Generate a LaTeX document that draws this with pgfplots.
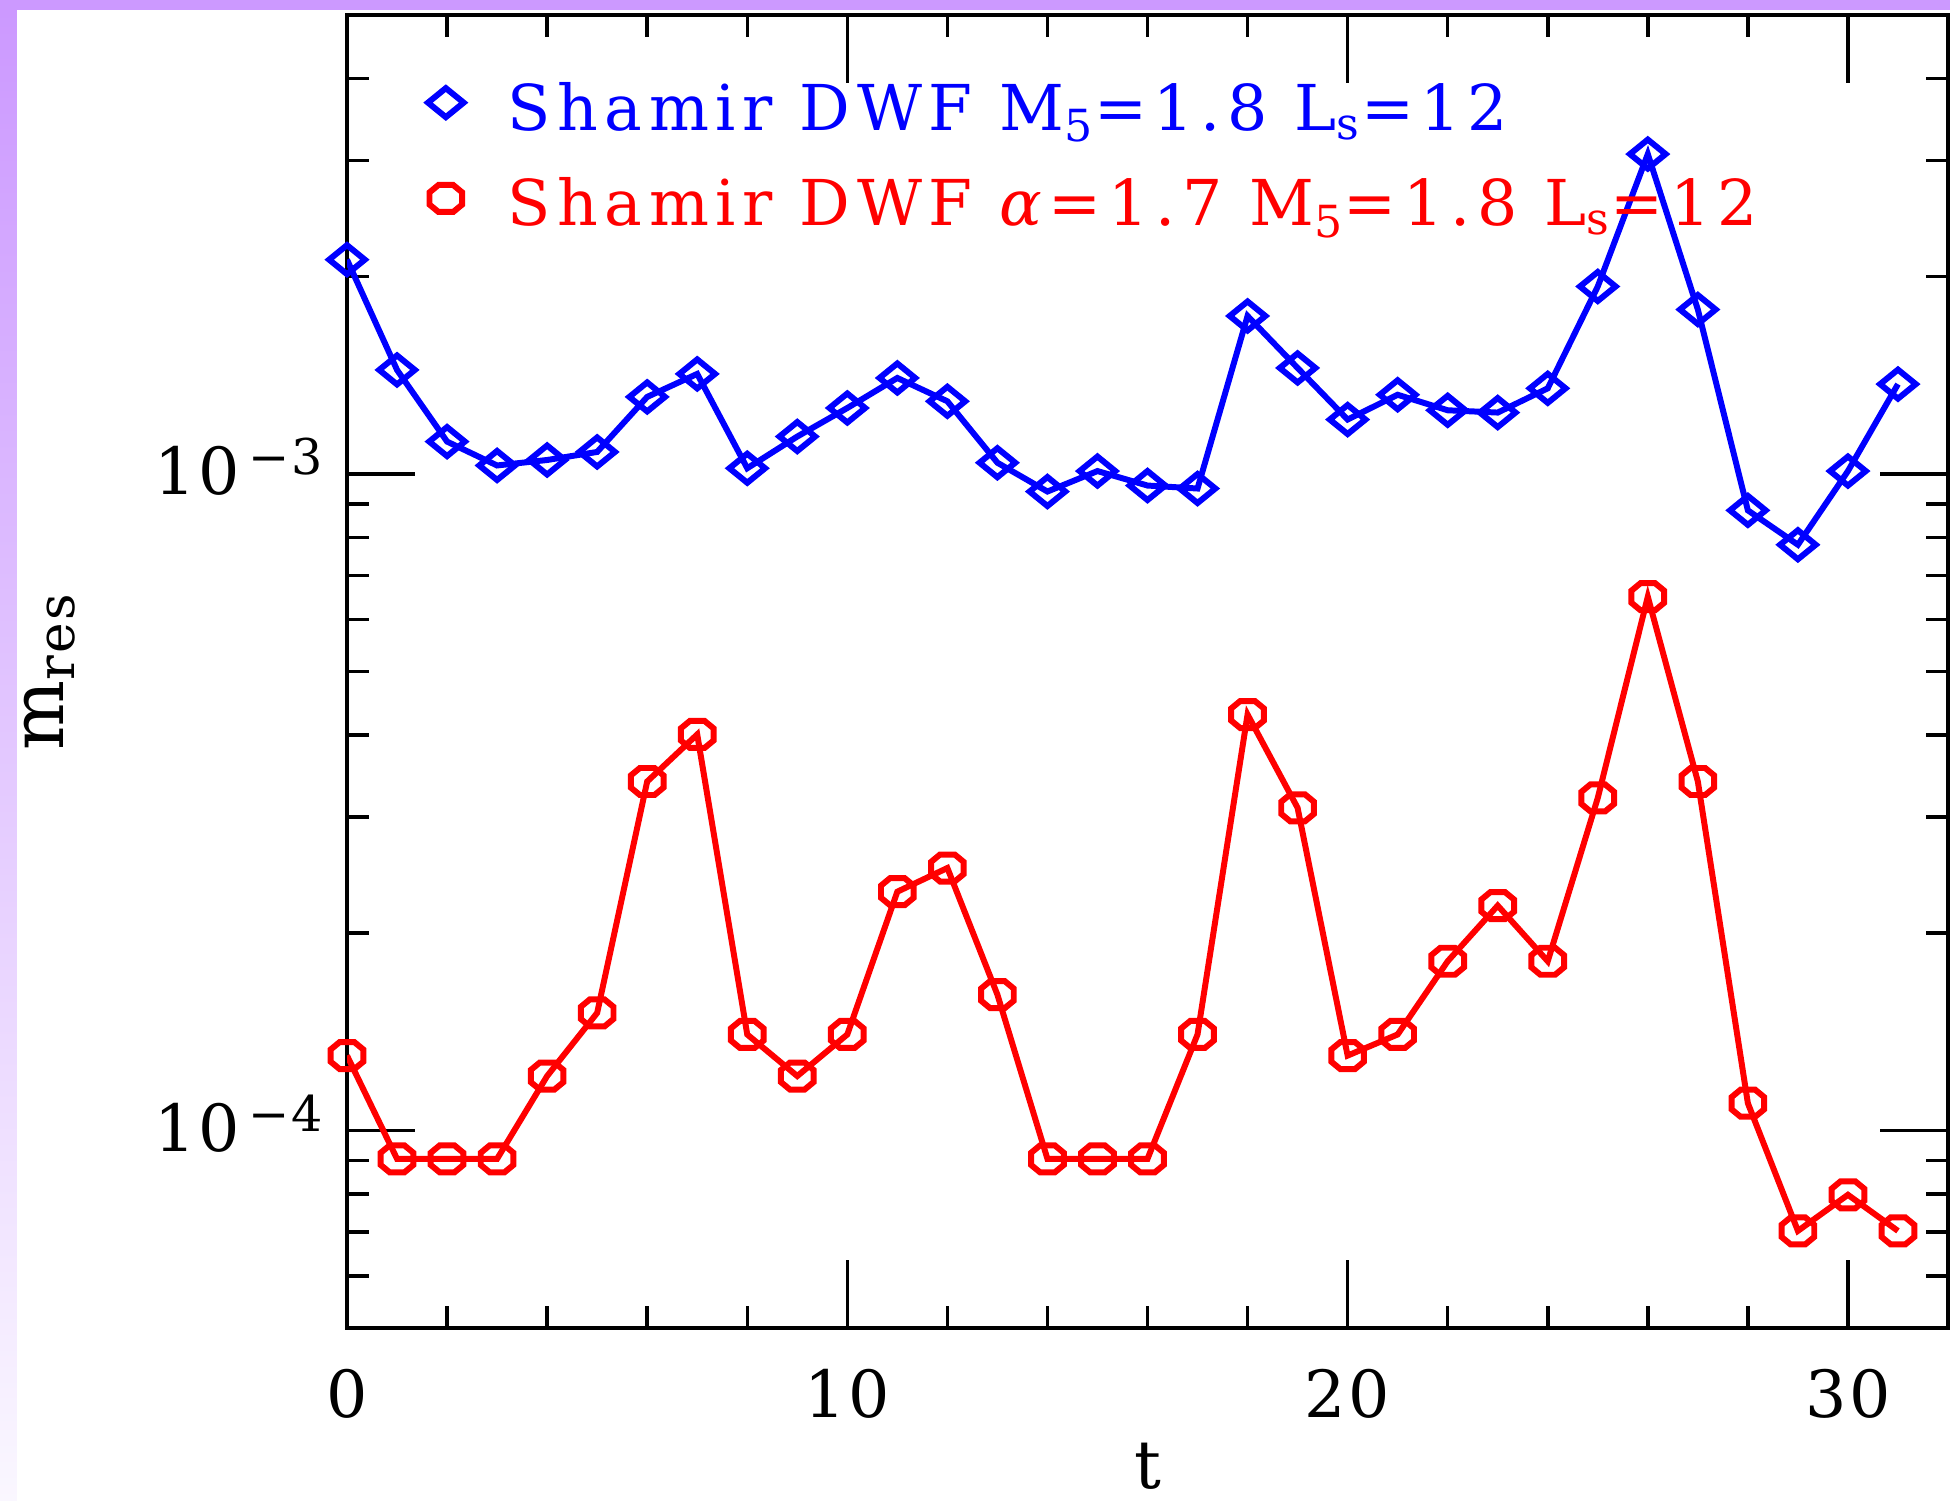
\documentclass[border=0pt]{standalone}
\usepackage{fontspec}
\setmainfont{DejaVu Serif}
\newfontfamily\pgfont[LetterSpace=4]{DejaVu Serif}
\newfontfamily\legfont[LetterSpace=10.5]{DejaVu Serif}
\usepackage{pgfplots}
\pgfplotsset{compat=1.18}
\definecolor{frameLilac}{HTML}{CC99FF}
\definecolor{fadeLilac}{HTML}{FAF7FF}
\definecolor{mBlue}{HTML}{0000FF}
\definecolor{mRed}{HTML}{FF0000}

% octagon "circle" as the old plotting package draws it
\pgfdeclareplotmark{octo}{%
  \pgfpathmoveto{\pgfqpoint{0.45\pgfplotmarksize}{\pgfplotmarksize}}%
  \pgfpathlineto{\pgfqpoint{\pgfplotmarksize}{0.45\pgfplotmarksize}}%
  \pgfpathlineto{\pgfqpoint{\pgfplotmarksize}{-0.45\pgfplotmarksize}}%
  \pgfpathlineto{\pgfqpoint{0.45\pgfplotmarksize}{-\pgfplotmarksize}}%
  \pgfpathlineto{\pgfqpoint{-0.45\pgfplotmarksize}{-\pgfplotmarksize}}%
  \pgfpathlineto{\pgfqpoint{-\pgfplotmarksize}{-0.45\pgfplotmarksize}}%
  \pgfpathlineto{\pgfqpoint{-\pgfplotmarksize}{0.45\pgfplotmarksize}}%
  \pgfpathlineto{\pgfqpoint{-0.45\pgfplotmarksize}{\pgfplotmarksize}}%
  \pgfpathclose
  \pgfusepathqstroke
}

\pgfplotstableread{
t mres
0  2.12e-3
1  1.44e-3
2  1.12e-3
3  1.03e-3
4  1.05e-3
5  1.08e-3
6  1.31e-3
7  1.42e-3
8  1.02e-3
9  1.14e-3
10 1.26e-3
11 1.40e-3
12 1.29e-3
13 1.04e-3
14 0.94e-3
15 1.01e-3
16 0.96e-3
17 0.95e-3
18 1.74e-3
19 1.45e-3
20 1.21e-3
21 1.32e-3
22 1.25e-3
23 1.24e-3
24 1.35e-3
25 1.93e-3
26 3.07e-3
27 1.78e-3
28 0.88e-3
29 0.78e-3
30 1.01e-3
31 1.37e-3
}\shamir

\pgfplotstableread{
t mres
0  1.30e-4
1  0.905e-4
2  0.905e-4
3  0.905e-4
4  1.21e-4
5  1.51e-4
6  3.40e-4
7  4.01e-4
8  1.40e-4
9  1.21e-4
10 1.40e-4
11 2.31e-4
12 2.51e-4
13 1.61e-4
14 0.905e-4
15 0.905e-4
16 0.905e-4
17 1.40e-4
18 4.30e-4
19 3.10e-4
20 1.30e-4
21 1.40e-4
22 1.81e-4
23 2.20e-4
24 1.81e-4
25 3.21e-4
26 6.50e-4
27 3.40e-4
28 1.10e-4
29 0.703e-4
30 0.798e-4
31 0.703e-4
}\mobius

\begin{document}
\begin{tikzpicture}
\path[use as bounding box] (0,0) rectangle (19.5,15.01);
\fill[frameLilac] (0,14.91) rectangle (19.5,15.01);
\shade[top color=frameLilac, bottom color=fadeLilac] (0,0) rectangle (0.17,14.91);
\begin{axis}[
  at={(3.47cm,1.73cm)}, anchor=south west,
  scale only axis, width=16.01cm, height=13.13cm,
  ymode=log,
  xmin=0, xmax=32, ymin=5e-5, ymax=5e-3,
  xtick={0,10,20,30}, xticklabels={0,10,20,30},
  minor x tick num=4,
  ytick={1e-4,1e-3},
  yticklabels={10\raisebox{0.2cm}{\fontsize{14}{16}\selectfont\,−4},10\raisebox{0.2cm}{\fontsize{14}{16}\selectfont\,−3}},
  minor ytick={6e-5,7e-5,8e-5,9e-5,2e-4,3e-4,4e-4,5e-4,6e-4,7e-4,8e-4,9e-4,2e-3,3e-3,4e-3},
  tick align=inside,
  major tick length=0.68cm, minor tick length=0.22cm,
  axis line style={line width=0.04cm},
  every tick/.style={black, line width=0.035cm},
  tick label style={font=\pgfont\fontsize{18.5}{22}\selectfont},
  xticklabel style={yshift=-0.29cm},
  yticklabel style={anchor=base east, xshift=-0.12cm, yshift=-0.21cm},
  xlabel={t}, ylabel={m\textsubscript{res}},
  every axis x label/.style={at={(rel axis cs:0.5,-0.105)}, anchor=center,
    inner sep=0pt, font=\pgfont\fontsize{19}{22}\selectfont},
  every axis y label/.style={at={(rel axis cs:-0.1855,0.5)}, anchor=center,
    rotate=90, font=\pgfont\fontsize{21}{24}\selectfont},
  legend style={draw=none, fill=none, inner sep=0pt, outer sep=0pt,
    at={(rel axis cs:0.0506,0.949)}, anchor=north west,
    font=\legfont\fontsize{18}{22}\selectfont,
    nodes={inner sep=0pt}, row sep=0.425cm,
    /tikz/every odd column/.append style={column sep=0.44cm}},
  legend cell align=left,
  legend image code/.code={\draw[#1, only marks] plot coordinates {(0cm,0.06cm)};},
]
\addplot[mBlue, line width=1.7pt, mark=diamond, mark size=0.145cm,
  mark options={xscale=1.64, solid}] table[x=t, y=mres] {\shamir};
\addlegendentry{\color{mBlue}Shamir DWF M\textsubscript{5}=1.8 L\textsubscript{s}=12}
\addplot[mRed, line width=1.7pt, mark=octo, mark size=0.135cm,
  mark options={xscale=1.21, solid}] table[x=t, y=mres] {\mobius};
\addlegendentry{\color{mRed}Shamir DWF \textit{α}=1.7 M\textsubscript{5}=1.8 L\textsubscript{s}=12}
\end{axis}
\end{tikzpicture}
\end{document}
